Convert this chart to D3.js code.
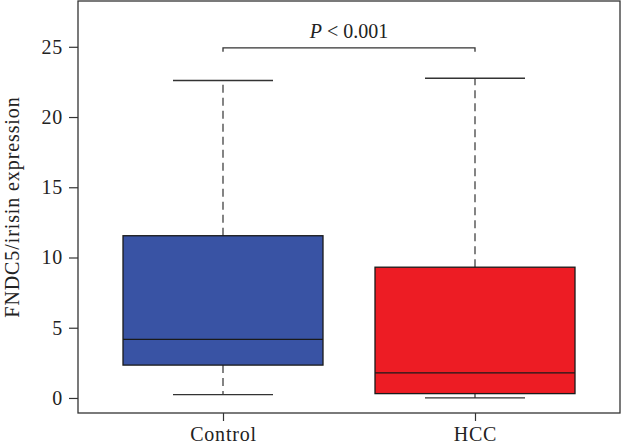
<!DOCTYPE html>
<html>
<head>
<meta charset="utf-8">
<script src="https://cdn.jsdelivr.net/npm/d3@7"></script>
<style>
  body { margin: 0; background: #fff; }
  text { font-family: "Liberation Serif", "DejaVu Serif", serif; fill: #222; }
</style>
</head>
<body>
<svg id="chart"></svg>
<script>
// data
const groups = ['Control', 'HCC'];
const whiskerLow = [0.24, 0.0];
const q1 = [2.34, 0.31];
const median = [4.17, 1.79];
const q3 = [11.55, 9.31];
const whiskerHigh = [22.6, 22.76];
const fills = ['#3953a4', '#ed1c24'];
const yTicks = [0, 5, 10, 15, 20, 25];
const pLabel = 'P < 0.001';
const bracketY = 25;

const W = 621, H = 444;
const margin = { top: 1, right: 1, bottom: 31, left: 78 };
const width = W - margin.left - margin.right;
const height = H - margin.top - margin.bottom;

const svg = d3.select('#chart').attr('width', W).attr('height', H);
const g = svg.append('g').attr('transform', `translate(${margin.left},${margin.top})`);

const x = d3.scalePoint().domain(groups).range([145, 397]);
const y = d3.scaleLinear().domain([-1.07, 28.26]).range([height, 0]);
const boxW = 200, capW = 100;
const ink = '#333';

// frame
g.append('rect')
  .attr('x', 0).attr('y', 0)
  .attr('width', width).attr('height', height)
  .attr('fill', 'none').attr('stroke', ink).attr('stroke-width', 1.3);

// axes
const yAxis = g.append('g').call(d3.axisLeft(y).tickValues(yTicks).tickSize(9).tickPadding(6));
const xAxis = g.append('g').attr('transform', `translate(0,${height})`)
  .call(d3.axisBottom(x).tickSize(8).tickPadding(6));
[yAxis, xAxis].forEach(a => {
  a.select('.domain').remove();
  a.selectAll('line').attr('stroke', ink).attr('stroke-width', 1.2);
  a.selectAll('text')
    .style('font-family', '"Liberation Serif", serif')
    .style('font-size', '20px')
    .style('letter-spacing', '0.8px')
    .attr('fill', '#222');
});

// y title
g.append('text')
  .attr('transform', 'rotate(-90)')
  .attr('x', -height / 2)
  .attr('y', -margin.left + 19)
  .attr('text-anchor', 'middle')
  .style('font-size', '20px')
  .style('letter-spacing', '0.9px')
  .text('FNDC5/irisin expression');

// boxes
const idx = d3.range(groups.length);
const box = g.selectAll('.box').data(idx).enter().append('g').attr('class', 'box');

// dashed whiskers
box.append('line')
  .attr('x1', i => x(groups[i])).attr('x2', i => x(groups[i]))
  .attr('y1', i => y(q3[i])).attr('y2', i => y(whiskerHigh[i]))
  .attr('stroke', ink).attr('stroke-width', 1.2).attr('stroke-dasharray', '8,5');
box.append('line')
  .attr('x1', i => x(groups[i])).attr('x2', i => x(groups[i]))
  .attr('y1', i => y(q1[i])).attr('y2', i => y(whiskerLow[i]))
  .attr('stroke', ink).attr('stroke-width', 1.2).attr('stroke-dasharray', '8,5');

// caps
[whiskerHigh, whiskerLow].forEach(arr => {
  box.append('line')
    .attr('x1', i => x(groups[i]) - capW / 2).attr('x2', i => x(groups[i]) + capW / 2)
    .attr('y1', i => y(arr[i])).attr('y2', i => y(arr[i]))
    .attr('stroke', ink).attr('stroke-width', 1.3);
});

box.append('rect')
  .attr('x', i => x(groups[i]) - boxW / 2)
  .attr('width', boxW)
  .attr('y', i => y(q3[i]))
  .attr('height', i => y(q1[i]) - y(q3[i]))
  .attr('fill', i => fills[i])
  .attr('stroke', '#1a1a1a').attr('stroke-width', 1.3);

box.append('line')
  .attr('x1', i => x(groups[i]) - boxW / 2).attr('x2', i => x(groups[i]) + boxW / 2)
  .attr('y1', i => y(median[i])).attr('y2', i => y(median[i]))
  .attr('stroke', '#1a1a1a').attr('stroke-width', 1.3);

// significance bracket
const bx1 = x(groups[0]), bx2 = x(groups[1]), by = y(bracketY) + 1;
g.append('path')
  .attr('d', `M${bx1},${by + 4}V${by}H${bx2}V${by + 4}`)
  .attr('fill', 'none').attr('stroke', ink).attr('stroke-width', 1.3);

const pt = g.append('text')
  .attr('x', (bx1 + bx2) / 2)
  .attr('y', by - 10)
  .attr('text-anchor', 'middle')
  .style('font-size', '20px');
pt.append('tspan').style('font-style', 'italic').text(pLabel.slice(0, 1));
pt.append('tspan').text(pLabel.slice(1));
</script>
</body>
</html>
